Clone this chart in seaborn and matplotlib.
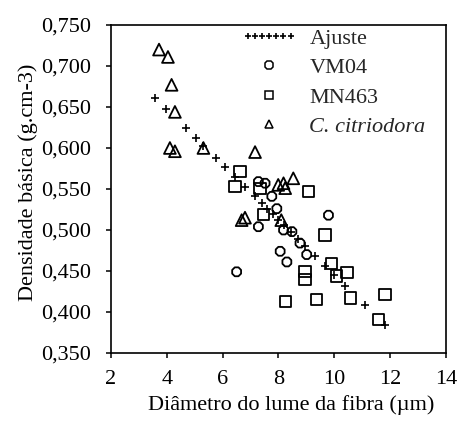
import matplotlib
matplotlib.use("Agg")
import matplotlib.pyplot as plt
import seaborn as sns
from matplotlib.lines import Line2D
from matplotlib.legend_handler import HandlerLine2D
from matplotlib.ticker import FuncFormatter, MultipleLocator

# Fitted values (Ajuste)
ajuste_x = [3.58, 3.97, 4.69, 5.05, 5.31, 5.76, 6.09, 6.44, 6.80, 7.16, 7.40, 7.60,
            7.80, 8.00, 8.20, 8.45, 8.70, 8.95, 9.31, 9.67, 10.00, 10.39, 11.10, 11.82]
ajuste_y = [0.661, 0.648, 0.624, 0.612, 0.603, 0.588, 0.577, 0.565, 0.553, 0.541, 0.533, 0.526,
            0.519, 0.512, 0.506, 0.497, 0.489, 0.481, 0.468, 0.456, 0.445, 0.432, 0.408, 0.384]

# Clone VM04
vm04_x = [6.50, 9.79, 8.06, 8.30, 8.77, 9.01, 8.18, 8.48, 7.94, 7.76, 7.28, 7.52, 7.28]
vm04_y = [0.449, 0.518, 0.474, 0.461, 0.484, 0.470, 0.500, 0.498, 0.526, 0.541, 0.559, 0.557, 0.504]

# Clone MN463
mn463_x = [6.62, 6.44, 7.34, 7.46, 9.07, 9.67, 9.91, 10.09, 10.45, 8.95, 8.95,
           8.24, 9.37, 10.57, 11.82, 11.58]
mn463_y = [0.571, 0.553, 0.551, 0.519, 0.547, 0.494, 0.459, 0.444, 0.448, 0.449, 0.440,
           0.413, 0.415, 0.417, 0.421, 0.391]

# Corymbia citriodora
citri_x = [3.72, 4.04, 4.17, 4.29, 4.11, 4.29, 5.31, 7.16, 6.68, 6.80, 7.99, 8.18, 8.24, 8.53, 8.10]
citri_y = [0.720, 0.711, 0.677, 0.644, 0.600, 0.596, 0.600, 0.595, 0.512, 0.515, 0.555, 0.557,
           0.551, 0.563, 0.512]

labels = ["Ajuste", "VM04", "MN463", "C. citriodora"]
x_ticks = [2, 4, 6, 8, 10, 12, 14]

FS = 16

sns.set_theme(style="ticks")
plt.rcParams["font.family"] = ["Liberation Serif", "DejaVu Serif"]
plt.rcParams["font.size"] = FS

fig = plt.figure(figsize=(4.57, 4.32), dpi=100)
ax = fig.add_axes([0.2429, 0.1829, 0.7330, 0.7593])

sns.scatterplot(x=ajuste_x, y=ajuste_y, marker="+", color="black", s=30,
                linewidth=1.2, ax=ax, zorder=3)
series = [(vm04_x, vm04_y, "8", 48), (mn463_x, mn463_y, "s", 66), (citri_x, citri_y, "^", 72)]
for xs, ys, m, sz in series:
    sns.scatterplot(x=xs, y=ys, marker=m, s=sz, color="black", facecolor="none",
                    edgecolor="black", linewidth=1.3, ax=ax, zorder=2)

ax.set_xlim(2, 14)
ax.set_ylim(0.35, 0.75)
ax.set_xticks(x_ticks)
ax.yaxis.set_major_locator(MultipleLocator(0.05))
ax.yaxis.set_major_formatter(FuncFormatter(lambda v, p: f"{v:.3f}".replace(".", ",")))

for s in ax.spines.values():
    s.set_visible(True)
    s.set_color("black")
    s.set_linewidth(1.2)
ax.tick_params(direction="out", length=3.3, width=1.1, color="black",
               labelsize=FS, labelcolor="black")
ax.tick_params(axis="y", pad=11)
ax.tick_params(axis="x", pad=9)

ax.set_xlabel("Diâmetro do lume da fibra (µm)", fontsize=FS, color="black", labelpad=4)
ax.set_ylabel("Densidade básica (g.cm-3)", fontsize=FS, color="black", labelpad=2)
ax.xaxis.label.set_x(0.537)
ax.yaxis.label.set_y(0.52)

handles = [
    Line2D([], [], marker="+", color="black", ls="", ms=5, mew=1.2),
    Line2D([], [], marker="8", mfc="none", mec="black", ls="", ms=6, mew=1.1),
    Line2D([], [], marker="s", mfc="none", mec="black", ls="", ms=6, mew=1.1),
    Line2D([], [], marker="^", mfc="none", mec="black", ls="", ms=6, mew=1.1),
]
leg = ax.legend(handles, labels, loc="upper left", bbox_to_anchor=(0.39, 0.99),
                frameon=False, borderpad=0, borderaxespad=0, handlelength=2.5,
                handletextpad=0.55, labelspacing=0.4, fontsize=FS,
                handler_map={handles[0]: HandlerLine2D(numpoints=7)})
leg.get_texts()[3].set_style("italic")

fig.savefig("out.png", dpi=100, facecolor="white")
